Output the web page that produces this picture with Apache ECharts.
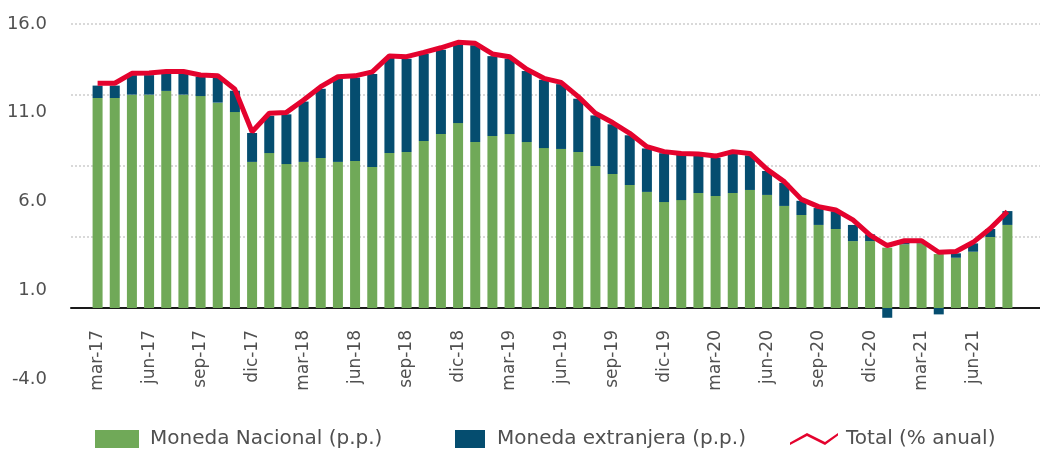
<!DOCTYPE html>
<html>
<head>
<meta charset="utf-8">
<script src="https://cdn.jsdelivr.net/npm/echarts@6/dist/echarts.min.js"></script>
<style>
  html, body { margin: 0; padding: 0; background: #fff; }
  #chart-container { width: 1040px; height: 451px; }
</style>
</head>
<body>
<div id="chart-container"></div>
<script>
var meses = [
  'mar-17','abr-17','may-17','jun-17','jul-17','ago-17','sep-17','oct-17','nov-17','dic-17','ene-18','feb-18',
  'mar-18','abr-18','may-18','jun-18','jul-18','ago-18','sep-18','oct-18','nov-18','dic-18','ene-19','feb-19',
  'mar-19','abr-19','may-19','jun-19','jul-19','ago-19','sep-19','oct-19','nov-19','dic-19','ene-20','feb-20',
  'mar-20','abr-20','may-20','jun-20','jul-20','ago-20','sep-20','oct-20','nov-20','dic-20','ene-21','feb-21',
  'mar-21','abr-21','may-21','jun-21','jul-21','ago-21'
];

// Moneda Nacional (p.p.)
var nacional = [
  11.83, 11.83, 12.02, 12.02, 12.23, 12.02, 11.94, 11.57, 11.04, 8.23, 8.73, 8.11,
  8.23, 8.45, 8.23, 8.28, 7.94, 8.73, 8.79, 9.41, 9.80, 10.42, 9.35, 9.69,
  9.80, 9.35, 9.01, 8.96, 8.79, 8.00, 7.55, 6.93, 6.54, 5.97, 6.08, 6.48,
  6.31, 6.48, 6.65, 6.37, 5.75, 5.24, 4.68, 4.45, 3.77, 3.77, 3.40, 3.59,
  3.64, 3.04, 2.83, 3.17, 4.00, 4.68
];

// Moneda extranjera (p.p.)
var extranjera = [
  0.70, 0.70, 1.10, 1.10, 1.00, 1.20, 1.10, 1.40, 1.20, 1.63, 2.10, 2.80,
  3.40, 3.90, 4.70, 4.70, 5.25, 5.35, 5.25, 4.90, 4.75, 4.45, 5.45, 4.50,
  4.25, 4.00, 3.85, 3.65, 3.00, 2.85, 2.80, 2.80, 2.45, 2.75, 2.55, 2.10,
  2.15, 2.20, 1.95, 1.35, 1.30, 0.80, 0.95, 1.00, 0.91, 0.38, -0.55, 0.07,
  0.02, -0.36, 0.25, 0.47, 0.45, 0.78
];

// Total (% anual)
var total = [
  12.66, 12.66, 13.22, 13.24, 13.32, 13.32, 13.13, 13.09, 12.32, 9.93, 10.97, 11.02,
  11.72, 12.47, 13.03, 13.08, 13.30, 14.20, 14.16, 14.40, 14.66, 14.97, 14.91, 14.31,
  14.16, 13.45, 12.94, 12.71, 11.91, 10.97, 10.45, 9.84, 9.09, 8.81, 8.71, 8.68,
  8.56, 8.81, 8.71, 7.81, 7.12, 6.12, 5.71, 5.52, 4.96, 4.10, 3.52, 3.79,
  3.79, 3.14, 3.18, 3.70, 4.48, 5.44
];

var yMin = -4, yMax = 16;
var yLabelStep = 5;   // -4.0, 1.0, 6.0, 11.0, 16.0
var yGridStep = 4;    // dotted lines at 0, 4, 8, 12, 16

var textColor = '#505050';
var font = 'DejaVu Sans';

var dom = document.getElementById('chart-container');
var myChart = echarts.init(dom, null, { renderer: 'canvas' });

var option = {
  animation: false,
  textStyle: { fontFamily: font },
  grid: [
    // frame: gridlines, y labels, zero line
    { left: 71, right: 0, top: 24, bottom: 72, outerBoundsMode: 'none', containLabel: false },
    // data
    { left: 89, right: 24, top: 24, bottom: 72, outerBoundsMode: 'none', containLabel: false },
    // month labels, hung from the zero line
    { left: 89, right: 24, top: 24, bottom: 143, outerBoundsMode: 'none', containLabel: false }
  ],
  legend: [
    {
      data: [{ name: 'Moneda Nacional (p.p.)', icon: 'rect' }],
      left: 90, top: 424,
      itemWidth: 44, itemHeight: 18,
      textStyle: { color: textColor, fontSize: 20, fontFamily: font, padding: [0, 0, 0, 6] }
    },
    {
      data: [{ name: 'Moneda extranjera (p.p.)', icon: 'rect' }],
      left: 450, top: 424,
      itemWidth: 30, itemHeight: 18,
      textStyle: { color: textColor, fontSize: 20, fontFamily: font, padding: [0, 0, 0, 7] }
    },
    {
      data: [{
        name: 'Total (% anual)',
        icon: 'path://M0,9.5 L17,0 L35,9 L48,0 L48,2.5 L35,12 L17,3 L0,12 Z'
      }],
      left: 785, top: 424,
      itemWidth: 48, itemHeight: 12,
      itemStyle: { color: '#E4032E' },
      textStyle: { color: textColor, fontSize: 20, fontFamily: font, padding: [0, 0, 0, 3] }
    }
  ],
  xAxis: [
    {
      type: 'value',
      gridIndex: 0,
      min: 0, max: 1,
      axisLine: { show: true, onZero: true, onZeroAxisIndex: 0, lineStyle: { color: '#1a1a1a', width: 2 } },
      axisTick: { show: false },
      axisLabel: { show: false },
      splitLine: { show: false }
    },
    {
      type: 'category',
      gridIndex: 1,
      data: meses,
      axisLine: { show: false },
      axisTick: { show: false },
      axisLabel: { show: false }
    },
    {
      type: 'category',
      gridIndex: 2,
      data: meses,
      axisLine: { show: false },
      axisTick: { show: false },
      axisLabel: {
        interval: 2,
        rotate: 90,
        margin: 22,
        color: textColor,
        fontSize: 17,
        fontFamily: font
      }
    }
  ],
  yAxis: [
    {
      type: 'value',
      gridIndex: 0,
      min: yMin, max: yMax,
      interval: yLabelStep,
      axisLine: { show: false },
      axisTick: { show: false },
      splitLine: { show: false },
      axisLabel: {
        margin: 24,
        color: textColor,
        fontSize: 18,
        fontFamily: font,
        padding: [0, 0, 6, 0],
        formatter: function (v) { return v.toFixed(1); }
      }
    },
    {
      type: 'value',
      gridIndex: 0,
      min: yMin, max: yMax,
      interval: yGridStep,
      axisLine: { show: false },
      axisTick: { show: false },
      axisLabel: { show: false },
      splitLine: {
        show: true,
        showMinLine: false,
        lineStyle: { color: '#d9d9d9', width: 2, type: [2, 2] }
      }
    },
    {
      type: 'value',
      gridIndex: 1,
      min: yMin, max: yMax,
      interval: yGridStep,
      axisLine: { show: false },
      axisTick: { show: false },
      axisLabel: { show: false },
      splitLine: { show: false }
    },
    {
      type: 'value',
      gridIndex: 2,
      min: 0, max: 1,
      show: false
    }
  ],
  series: [
    {
      name: 'Moneda Nacional (p.p.)',
      type: 'bar',
      xAxisIndex: 1, yAxisIndex: 2,
      stack: 'credito',
      barWidth: 10,
      itemStyle: { color: '#70A958' },
      data: nacional
    },
    {
      name: 'Moneda extranjera (p.p.)',
      type: 'bar',
      xAxisIndex: 1, yAxisIndex: 2,
      stack: 'credito',
      barWidth: 10,
      itemStyle: { color: '#054D6F' },
      data: extranjera
    },
    {
      name: 'Total (% anual)',
      type: 'line',
      xAxisIndex: 1, yAxisIndex: 2,
      symbol: 'none',
      z: 5,
      lineStyle: { color: '#E4032E', width: 5 },
      itemStyle: { color: '#E4032E' },
      data: total
    }
  ]
};

myChart.setOption(option);
window.addEventListener('resize', myChart.resize);
</script>
</body>
</html>
